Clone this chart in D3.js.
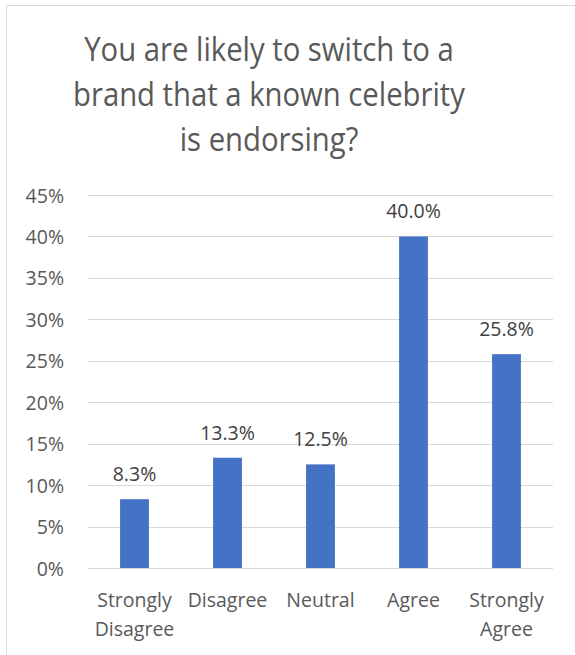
<!DOCTYPE html>
<html><head><meta charset="utf-8">
<script src="https://cdn.jsdelivr.net/npm/d3@7"></script>
<style>html,body{margin:0;padding:0;background:#fff;}svg{display:block;}</style>
</head><body>
<svg id="c" width="575" height="655"></svg>
<script>
const titleLines = ["You are likely to switch to a", "brand that a known celebrity", "is endorsing?"];
const categories = ["Strongly Disagree", "Disagree", "Neutral", "Agree", "Strongly Agree"];
const categoryLines = [["Strongly", "Disagree"], ["Disagree"], ["Neutral"], ["Agree"], ["Strongly", "Agree"]];
const values = [0.083, 0.133, 0.125, 0.400, 0.258];
const valueLabels = ["8.3%", "13.3%", "12.5%", "40.0%", "25.8%"];
const yTicks = [0, 0.05, 0.10, 0.15, 0.20, 0.25, 0.30, 0.35, 0.40, 0.45];

const font = "'Open Sans', sans-serif";
const svg = d3.select("#c");
const W = 575, H = 655;

// border (top and left visible)
svg.append("line").attr("x1", 6.5).attr("x2", W).attr("y1", 5.5).attr("y2", 5.5).attr("stroke", "#d9d9d9");
svg.append("line").attr("x1", 6.5).attr("x2", 6.5).attr("y1", 5.5).attr("y2", H).attr("stroke", "#d9d9d9");

// title (narrowed horizontally to mimic a condensed office font)
const title = svg.append("text").attr("transform", "translate(269,0) scale(0.915,1)")
  .attr("font-family", font).attr("font-size", 32).attr("fill", "#595959").attr("text-anchor", "middle");
titleLines.forEach((t, i) => {
  title.append("tspan").attr("x", 0).attr("y", 61 + i * 45).text(t);
});

const x = d3.scaleBand().domain(categories).range([88, 553]).padding(0);
const y = d3.scaleLinear().domain([0, 0.45]).range([568, 195]);
const barW = x.bandwidth() * 0.31;

// gridlines
svg.append("g").selectAll("line").data(yTicks).join("line")
  .attr("x1", 88).attr("x2", 553)
  .attr("y1", d => Math.round(y(d)) + 0.5).attr("y2", d => Math.round(y(d)) + 0.5)
  .attr("stroke", "#d9d9d9").attr("stroke-width", 1.2);

// y axis
const yAxis = svg.append("g").attr("transform", "translate(64,0)")
  .call(d3.axisLeft(y).tickValues(yTicks).tickFormat(d3.format(".0%")).tickSize(0).tickPadding(0));
yAxis.select(".domain").remove();
yAxis.selectAll("text").attr("font-family", font).attr("font-size", 19.5).attr("fill", "#595959").attr("dy", "0.36em");

// bars
svg.append("g").selectAll("rect").data(values).join("rect")
  .attr("x", (d, i) => x(categories[i]) + x.bandwidth() / 2 - barW / 2)
  .attr("width", barW)
  .attr("y", d => y(d))
  .attr("height", d => y(0) - y(d))
  .attr("fill", "#4472c4");

// value labels
svg.append("g").selectAll("text").data(values).join("text")
  .attr("x", (d, i) => x(categories[i]) + x.bandwidth() / 2)
  .attr("y", d => y(d) - 18)
  .attr("text-anchor", "middle")
  .attr("font-family", font).attr("font-size", 19.5).attr("fill", "#404040")
  .text((d, i) => valueLabels[i]);

// category labels
const cat = svg.append("g");
categoryLines.forEach((lines, i) => {
  const t = cat.append("text").attr("text-anchor", "middle").attr("font-family", font).attr("font-size", 19.5).attr("fill", "#595959");
  lines.forEach((l, j) => {
    t.append("tspan").attr("x", x(categories[i]) + x.bandwidth() / 2).attr("y", 607 + j * 28.5).text(l);
  });
});
</script>
</body></html>
